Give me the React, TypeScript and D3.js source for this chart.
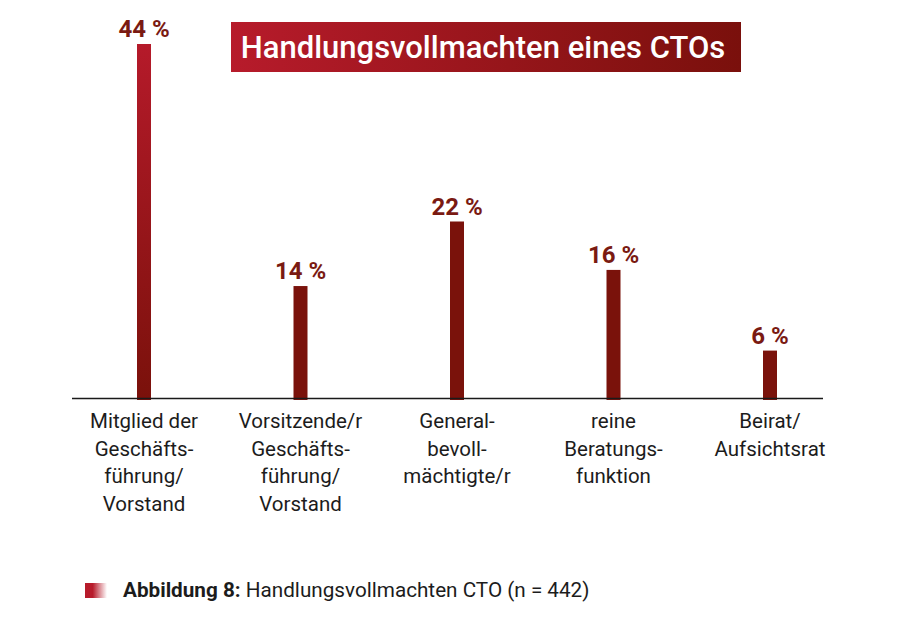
import React from "react";
import * as d3 from "d3";

const categories = ["mitglied", "vorsitz", "general", "beratung", "beirat"];
const categoryLines: string[][] = [
  ["Mitglied der", "Geschäfts-", "führung/", "Vorstand"],
  ["Vorsitzende/r", "Geschäfts-", "führung/", "Vorstand"],
  ["General-", "bevoll-", "mächtigte/r"],
  ["reine", "Beratungs-", "funktion"],
  ["Beirat/", "Aufsichtsrat"],
];
const values = [44, 14, 22, 16, 6];
const valueLabels = ["44 %", "14 %", "22 %", "16 %", "6 %"];
const title = "Handlungsvollmachten eines CTOs";
const captionBold = "Abbildung 8:";
const captionText = " Handlungsvollmachten CTO (n = 442)";

const W = 907;
const H = 627;
const FONT = "Roboto, 'Open Sans', sans-serif";

export default function App() {
  const x = d3.scalePoint<string>().domain(categories).range([144, 770]);
  const y = d3.scaleLinear().domain([0, 44]).range([399, 44]);
  const barW = 14;
  const baseY = y(0);

  return (
    <svg width={W} height={H} style={{ position: "absolute", left: 0, top: 0, background: "#fff" }}>
      <defs>
        <linearGradient id="titleGrad" x1="0" x2="1" y1="0" y2="0">
          <stop offset="0" stopColor="#b71b2b" />
          <stop offset="1" stopColor="#7a100c" />
        </linearGradient>
        <linearGradient id="bar1Grad" x1="0" x2="0" y1="0" y2="1">
          <stop offset="0" stopColor="#b51a2a" />
          <stop offset="1" stopColor="#7a110b" />
        </linearGradient>
        <linearGradient id="capGrad" x1="0" x2="1" y1="0" y2="0">
          <stop offset="0" stopColor="#b71b2b" />
          <stop offset="0.35" stopColor="#b71b2b" />
          <stop offset="1" stopColor="#b71b2b" stopOpacity="0" />
        </linearGradient>
      </defs>

      {/* title */}
      <rect x={231} y={22} width={510} height={50} fill="url(#titleGrad)" />
      <text x={483} y={57.5} textAnchor="middle" fill="#fff" fontFamily={FONT} fontWeight={500} fontSize={31}>
        {title}
      </text>

      {/* bars */}
      {categories.map((c, i) => (
        <rect
          key={c}
          x={(x(c) as number) - barW / 2}
          y={y(values[i])}
          width={barW}
          height={baseY - y(values[i]) + 1}
          fill={i === 0 ? "url(#bar1Grad)" : "#7a120b"}
        />
      ))}

      {/* axis */}
      <line x1={72} x2={823} y1={398.5} y2={398.5} stroke="#1a1a1a" strokeWidth={1.6} />

      {/* value labels */}
      {categories.map((c, i) => (
        <text
          key={c}
          x={x(c) as number}
          y={y(values[i]) - 7}
          textAnchor="middle"
          fill="#7a1a12"
          fontFamily={FONT}
          fontWeight={700}
          fontSize={24}
        >
          {valueLabels[i]}
        </text>
      ))}

      {/* category labels */}
      {categories.map((c, i) => (
        <text key={c} textAnchor="middle" fill="#1c1c1c" fontFamily={FONT} fontSize={20.5}>
          {categoryLines[i].map((l, j) => (
            <tspan key={j} x={x(c) as number} y={428 + j * 27.5}>
              {l}
            </tspan>
          ))}
        </text>
      ))}

      {/* caption */}
      <rect x={85} y={583} width={22} height={15} fill="url(#capGrad)" />
      <text x={123} y={597} fill="#1c1c1c" fontFamily={FONT} fontSize={20.7}>
        <tspan fontWeight={700}>{captionBold}</tspan>
        <tspan>{captionText}</tspan>
      </text>
    </svg>
  );
}
